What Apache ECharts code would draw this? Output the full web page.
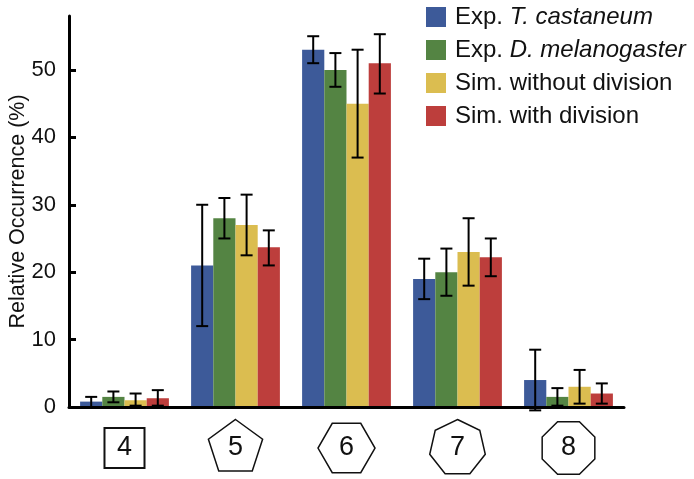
<!DOCTYPE html>
<html>
<head>
<meta charset="utf-8">
<script src="https://cdn.jsdelivr.net/npm/echarts@6/dist/echarts.min.js"></script>
<style>
html, body { margin: 0; padding: 0; background: #fff; }
#chart { width: 694px; height: 479px; }
</style>
</head>
<body>
<div id="chart"></div>
<script>
// polygon side counts on x axis
const categories = ["4", "5", "6", "7", "8"];
const sides = [4, 5, 6, 7, 8];

const seriesNames = ["Exp. T. castaneum", "Exp. D. melanogaster", "Sim. without division", "Sim. with division"];
const seriesColors = ["#3d5a99", "#548443", "#dbbd50", "#bd3e3c"];

// mean values (%)
const tCastaneum = [0.8, 21, 53, 19, 4];
const dMelanogaster = [1.5, 28, 50, 20, 1.5];
const simNoDivision = [1.0, 27, 45, 23, 3];
const simDivision = [1.3, 23.7, 51, 22.2, 2];

// error bar ends (low, high)
const tCastaneumLow = [0, 12, 51, 16, -0.5];
const tCastaneumHigh = [1.5, 30, 55, 22, 8.5];
const dMelanogasterLow = [0.7, 25, 47.5, 16.5, 0.2];
const dMelanogasterHigh = [2.3, 31, 52.5, 23.5, 2.8];
const simNoDivisionLow = [0.2, 22.5, 37, 18, 0.5];
const simNoDivisionHigh = [2, 31.5, 53, 28, 5.5];
const simDivisionLow = [0.2, 21, 46.5, 19.4, 0.5];
const simDivisionHigh = [2.5, 26.2, 55.3, 25, 3.5];

const yTicks = [0, 10, 20, 30, 40, 50];

const values = [tCastaneum, dMelanogaster, simNoDivision, simDivision];
const lows = [tCastaneumLow, dMelanogasterLow, simNoDivisionLow, simDivisionLow];
const highs = [tCastaneumHigh, dMelanogasterHigh, simNoDivisionHigh, simDivisionHigh];

const chart = echarts.init(document.getElementById("chart"));
const font = "Liberation Sans, Arial, sans-serif";

const barSeries = values.map((v, i) => ({
    name: seriesNames[i],
    type: "bar",
    data: v,
    barWidth: "20%",
    barGap: "0%",
    itemStyle: { color: seriesColors[i] },
    animation: false,
    z: 2
}));

// error bars drawn over the bars, offset like the grouped bars
const errorSeries = values.map((v, s) => ({
    type: "custom",
    clip: false,
    z: 5,
    silent: true,
    animation: false,
    data: v.map((_, c) => [c, lows[s][c], highs[s][c]]),
    renderItem: function (params, api) {
        const band = api.size([1, 0])[0];
        const bw = band * 0.2;
        const p0 = api.coord([api.value(0), api.value(1)]);
        const p1 = api.coord([api.value(0), api.value(2)]);
        const x = p0[0] + (s - 1.5) * bw;
        const cap = 6;
        const style = { stroke: "#000", lineWidth: 2 };
        return {
            type: "group",
            children: [
                { type: "line", shape: { x1: x, y1: p0[1], x2: x, y2: p1[1] }, style: style },
                { type: "line", shape: { x1: x - cap, y1: p0[1], x2: x + cap, y2: p0[1] }, style: style },
                { type: "line", shape: { x1: x - cap, y1: p1[1], x2: x + cap, y2: p1[1] }, style: style }
            ]
        };
    }
}));

// polygon frames round the category labels
const startAngle = { 4: 45, 5: -90, 6: 0, 7: -90, 8: 22.5 };
const polySeries = {
    type: "custom",
    clip: false,
    silent: true,
    animation: false,
    z: 1,
    data: sides.map((n, c) => [c, n]),
    renderItem: function (params, api) {
        const c = api.coord([api.value(0), 0]);
        const n = api.value(1);
        const cy = c[1] + 41;
        const r = n === 4 ? 28.3 : 28.5;
        const pts = [];
        for (let k = 0; k < n; k++) {
            const a = (startAngle[n] + k * 360 / n) * Math.PI / 180;
            pts.push([c[0] + r * Math.cos(a), cy + r * Math.sin(a)]);
        }
        return {
            type: "polygon",
            shape: { points: pts },
            style: { fill: "none", stroke: "#111", lineWidth: n === 4 ? 2 : 1.5 }
        };
    }
};

chart.setOption({
    animation: false,
    textStyle: { fontFamily: font },
    grid: { left: 69, right: 70, top: 16, bottom: 72, containLabel: false, outerBoundsMode: "none" },
    legend: {
        data: seriesNames,
        orient: "vertical",
        left: 426,
        top: 5,
        padding: 0,
        itemWidth: 20,
        itemHeight: 20,
        itemGap: 9,
        icon: "rect",
        textStyle: {
            fontSize: 24,
            lineHeight: 22,
            padding: [0, 0, 0, 4],
            color: "#111",
            fontFamily: font,
            rich: { i: { fontStyle: "italic", fontSize: 24, lineHeight: 22, color: "#111", fontFamily: font } }
        },
        formatter: function (name) {
            return name.replace(/(T\. castaneum|D\. melanogaster)/, "{i|$1}");
        }
    },
    xAxis: {
        type: "category",
        data: categories,
        axisLine: { lineStyle: { color: "#000", width: 3 } },
        axisTick: { show: false },
        axisLabel: {
            fontSize: 27,
            color: "#111",
            margin: 41,
            verticalAlign: "middle",
            fontFamily: font
        },
        z: 3
    },
    yAxis: {
        type: "value",
        min: 0,
        max: 58,
        interval: 10,
        name: "Relative Occurrence (%)",
        nameLocation: "middle",
        nameRotate: 90,
        nameGap: 40,
        nameMoveOverlap: false,
        nameTextStyle: { fontSize: 21.5, color: "#111", fontFamily: font },
        axisLine: { show: true, lineStyle: { color: "#000", width: 3 } },
        axisTick: { show: true, inside: true, length: 7, lineStyle: { color: "#000", width: 3 } },
        axisLabel: {
            fontSize: 22,
            color: "#111",
            margin: 13,
            showMaxLabel: false,
            fontFamily: font,
            formatter: function (v) { return yTicks.indexOf(v) >= 0 ? String(v) : ""; }
        },
        splitLine: { show: false },
        z: 3
    },
    series: barSeries.concat(errorSeries, [polySeries])
});
</script>
</body>
</html>
